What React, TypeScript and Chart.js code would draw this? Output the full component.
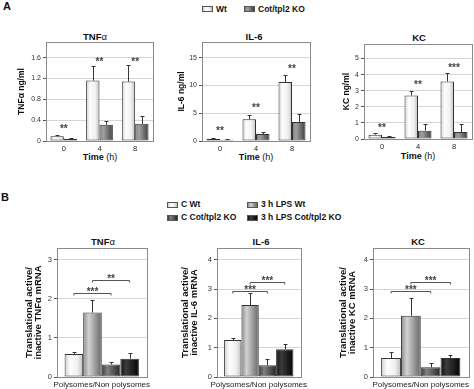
import React, { useEffect, useRef } from 'react';
import { Chart, registerables } from 'chart.js';

Chart.register(...registerables);

const FONT = '"Liberation Sans", Arial, Helvetica, sans-serif';

// ---------------- Panel A data ----------------
const timeLabels = ['0', '4', '8'];
const seriesNamesA = ['Wt', 'Cot/tpl2 KO'];

const tnfWt = [0.09, 1.16, 1.14];
const tnfWtErr = [0.02, 0.27, 0.31];
const tnfKo = [0.045, 0.31, 0.33];
const tnfKoErr = [0.01, 0.08, 0.15];
const tnfStars = ['**', '**', '**'];
const tnfStarY = [0.29, 1.57, 1.57];
const tnfTicks = [0, 0.4, 0.8, 1.2, 1.6];
const tnfTickLabels = ['0', '0.4', '0.8', '1.2', '1.6'];

const il6Wt = [0.4, 3.9, 10.6];
const il6WtErr = [0.1, 0.7, 1.3];
const il6Ko = [0.24, 1.26, 3.4];
const il6KoErr = [0.05, 0.35, 1.45];
const il6Stars = ['**', '**', '**'];
const il6StarY = [2.2, 6.4, 13.4];
const il6Ticks = [0, 5, 10, 15];
const il6TickLabels = ['0', '5', '10', '15'];

const kcWt = [0.27, 2.7, 3.57];
const kcWtErr = [0.08, 0.3, 0.56];
const kcKo = [0.12, 0.52, 0.43];
const kcKoErr = [0.06, 0.41, 0.5];
const kcStars = ['**', '**', '***'];
const kcStarY = [0.85, 3.53, 4.6];
const kcTicks = [0, 1, 2, 3, 4, 5];
const kcTickLabels = ['0', '1', '2', '3', '4', '5'];

// ---------------- Panel B data ----------------
const polyLabels = ['Polysomes/Non polysomes'];
const groupNamesB = ['C Wt', '3 h LPS Wt', 'C Cot/tpl2 KO', '3 h LPS Cot/tpl2 KO'];

const tnfB = [0.59, 1.65, 0.32, 0.47];
const tnfBErr = [0.05, 0.32, 0.06, 0.15];
const tnfBBrackets = [
  { from: 0, to: 2, y: 2.14, label: '***' },
  { from: 1, to: 3, y: 2.49, label: '**' },
];
const il6B = [1.26, 2.46, 0.4, 0.95];
const il6BErr = [0.07, 0.42, 0.2, 0.18];
const il6BBrackets = [
  { from: 0, to: 2, y: 2.94, label: '***' },
  { from: 1, to: 3, y: 3.25, label: '***' },
];
const kcB = [0.65, 2.09, 0.33, 0.65];
const kcBErr = [0.19, 0.6, 0.15, 0.1];
const kcBBrackets = [
  { from: 0, to: 2, y: 2.94, label: '***' },
  { from: 1, to: 3, y: 3.23, label: '***' },
];
const tnfBTicks = [0, 1, 2, 3];
const tnfBTickLabels = ['0', '1', '2', '3'];
const ratioTicks = [0, 1, 2, 3, 4];
const ratioTickLabels = ['0', '1', '2', '3', '4'];

// ---------------- styles ----------------
const STYLE_LIGHT = { stops: [[0, '#cfcfcf'], [0.3, '#fdfdfd'], [0.7, '#f0f0f0'], [1, '#bdbdbd']], flat: '#ececec' };
const STYLE_DARK = { stops: [[0, '#7c7c7c'], [0.3, '#a0a0a0'], [1, '#3e3e3e']], flat: '#707070' };
const STYLE_MID = { stops: [[0, '#8a8a8a'], [0.3, '#d2d2d2'], [1, '#666666']], flat: '#a8a8a8' };
const STYLE_DGRAY = { stops: [[0, '#3c3c3c'], [0.3, '#808080'], [1, '#262626']], flat: '#5a5a5a' };
const STYLE_BLACK = { stops: [[0, '#111111'], [0.3, '#3c3c3c'], [1, '#040404']], flat: '#1c1c1c' };

const STAR_SIZE = 10;

const cssGrad = (st: any) =>
  `linear-gradient(to right, ${st.stops.map((s: any) => `${s[1]} ${s[0] * 100}%`).join(', ')})`;

function barFill(st: any, catPct: number) {
  return (ctx: any) => {
    const chart = ctx.chart;
    const xs = chart.scales && chart.scales.x;
    if (!xs || ctx.type !== 'data') return st.flat;
    const n = chart.data.labels.length;
    const nd = chart.data.datasets.length;
    const groupW = (xs.right - xs.left) / n;
    const center = xs.getPixelForValue(ctx.dataIndex);
    const barW = (groupW * catPct) / nd;
    const left = center - (groupW * catPct) / 2 + ctx.datasetIndex * barW;
    if (!isFinite(left) || !isFinite(barW) || barW <= 0) return st.flat;
    const g = chart.ctx.createLinearGradient(left, 0, left + barW, 0);
    st.stops.forEach((s: any) => g.addColorStop(s[0], s[1]));
    return g;
  };
}

const boxPlugin = {
  id: 'plotBox',
  afterDraw(chart: any) {
    const { ctx, chartArea: a } = chart;
    ctx.save();
    ctx.strokeStyle = '#8a8a8a';
    ctx.lineWidth = 1;
    ctx.strokeRect(Math.round(a.left) + 0.5, Math.round(a.top) + 0.5, Math.round(a.right - a.left), Math.round(a.bottom - a.top));
    ctx.restore();
  },
};

function errPlugin(errors: number[][]) {
  return {
    id: 'errBars',
    afterDatasetsDraw(chart: any) {
      const ctx = chart.ctx;
      const ys = chart.scales.y;
      ctx.save();
      ctx.strokeStyle = '#333';
      ctx.lineWidth = 1;
      chart.data.datasets.forEach((ds: any, di: number) => {
        const meta = chart.getDatasetMeta(di);
        meta.data.forEach((el: any, i: number) => {
          const e = errors[di] && errors[di][i];
          if (!e) return;
          const x = Math.round(el.x) + 0.5;
          const y1 = Math.round(ys.getPixelForValue(ds.data[i] + e)) + 0.5;
          ctx.beginPath();
          ctx.moveTo(x, el.y);
          ctx.lineTo(x, y1);
          ctx.moveTo(x - 2, y1);
          ctx.lineTo(x + 2, y1);
          ctx.stroke();
        });
      });
      ctx.restore();
    },
  };
}

// draws '*' text so that its visual centre sits at y
function drawStars(ctx: any, text: string, x: number, y: number) {
  ctx.fillText(text, x, y + STAR_SIZE * 0.57);
}

function starsPlugin(stars: string[] | null, starY: number[] | null) {
  return {
    id: 'stars',
    afterDatasetsDraw(chart: any) {
      if (!stars || !starY) return;
      const ctx = chart.ctx;
      const xs = chart.scales.x;
      const ys = chart.scales.y;
      ctx.save();
      ctx.fillStyle = '#444';
      ctx.font = `bold ${STAR_SIZE}px ${FONT}`;
      ctx.textAlign = 'center';
      ctx.textBaseline = 'alphabetic';
      stars.forEach((s, i) => {
        drawStars(ctx, s, xs.getPixelForValue(i), ys.getPixelForValue(starY[i]));
      });
      ctx.restore();
    },
  };
}

function bracketPlugin(brackets: any[] | null) {
  return {
    id: 'brackets',
    afterDatasetsDraw(chart: any) {
      if (!brackets) return;
      const ctx = chart.ctx;
      const ys = chart.scales.y;
      ctx.save();
      ctx.strokeStyle = '#555';
      ctx.fillStyle = '#444';
      ctx.lineWidth = 1;
      ctx.font = `bold ${STAR_SIZE}px ${FONT}`;
      ctx.textAlign = 'center';
      ctx.textBaseline = 'alphabetic';
      brackets.forEach((b) => {
        const x1 = chart.getDatasetMeta(b.from).data[0].x;
        const x2 = chart.getDatasetMeta(b.to).data[0].x;
        const y = Math.round(ys.getPixelForValue(b.y)) + 0.5;
        ctx.beginPath();
        ctx.moveTo(x1, y + 2);
        ctx.lineTo(x1, y);
        ctx.lineTo(x2, y);
        ctx.lineTo(x2, y + 2);
        ctx.stroke();
        drawStars(ctx, b.label, (x1 + x2) / 2, y - 4);
      });
      ctx.restore();
    },
  };
}

function buildConfig(s: any): any {
  return {
    type: 'bar',
    data: {
      labels: s.labels,
      datasets: s.series.map((ser: any) => ({
        label: ser.name,
        data: ser.values,
        backgroundColor: barFill(ser.style, s.catPct),
        borderColor: '#333',
        borderWidth: 1,
        borderSkipped: false,
        categoryPercentage: s.catPct,
        barPercentage: 1,
      })),
    },
    options: {
      responsive: false,
      animation: false,
      devicePixelRatio: 1,
      layout: { padding: { top: s.padTop, right: s.padRight, left: 0, bottom: 0 } },
      plugins: { legend: { display: false }, tooltip: { enabled: false }, title: { display: false } },
      scales: {
        x: {
          afterFit: (sc: any) => { sc.height = s.xHeight; },
          grid: { display: false, drawTicks: false },
          border: { display: false },
          ticks: { font: { family: FONT, size: s.xTickSize }, color: '#222', padding: s.xTickPad, maxRotation: 0, autoSkip: false },
        },
        y: {
          min: 0,
          max: s.yMax,
          afterFit: (sc: any) => { sc.width = s.yWidth; },
          afterBuildTicks: (sc: any) => { sc.ticks = s.yTicks.map((v: number) => ({ value: v })); },
          ticks: {
            callback: (_v: any, i: number) => s.yTickLabels[i],
            font: { family: FONT, size: s.yTickSize },
            color: '#333',
            padding: 2,
            autoSkip: false,
          },
          grid: { color: '#d6d6d6', tickColor: '#555', tickLength: 3, lineWidth: 1 },
          border: { display: false },
          title: {
            display: true,
            text: s.yTitle,
            font: { family: FONT, size: s.yTitleSize, weight: 'bold', lineHeight: 1.0 },
            color: '#111',
            padding: { top: s.yTitlePad, bottom: 0 },
          },
        },
      },
    },
    plugins: [boxPlugin, errPlugin(s.series.map((x: any) => x.errors)), starsPlugin(s.stars, s.starY), bracketPlugin(s.brackets)],
  };
}

function ChartPanel({ spec }: { spec: any }) {
  const ref = useRef<HTMLCanvasElement>(null);
  useEffect(() => {
    const chart = new Chart(ref.current as HTMLCanvasElement, buildConfig(spec));
    return () => chart.destroy();
  }, []);
  return (
    <canvas
      ref={ref}
      width={spec.width}
      height={spec.height}
      style={{ position: 'absolute', left: spec.left, top: spec.top, width: spec.width, height: spec.height }}
    />
  );
}

const aCommon = {
  labels: timeLabels,
  catPct: 0.75,
  padRight: 2,
  yWidth: 36,
  xHeight: 24,
  xTickSize: 7.5,
  xTickPad: 3,
  yTickSize: 7,
  yTitleSize: 8.5,
  brackets: null,
};

const panels: any[] = [
  {
    ...aCommon,
    left: 10, top: 30, width: 145, height: 135, padTop: 12, yTitlePad: 7,
    yMax: 1.9, yTicks: tnfTicks, yTickLabels: tnfTickLabels, yTitle: 'TNFα ng/ml',
    stars: tnfStars, starY: tnfStarY,
    series: [
      { name: seriesNamesA[0], values: tnfWt, errors: tnfWtErr, style: STYLE_LIGHT },
      { name: seriesNamesA[1], values: tnfKo, errors: tnfKoErr, style: STYLE_DARK },
    ],
  },
  {
    ...aCommon,
    left: 166, top: 30, width: 146, height: 135, padTop: 12, yTitlePad: 11,
    yMax: 17.8, yTicks: il6Ticks, yTickLabels: il6TickLabels, yTitle: 'IL-6 ng/ml',
    stars: il6Stars, starY: il6StarY,
    series: [
      { name: seriesNamesA[0], values: il6Wt, errors: il6WtErr, style: STYLE_LIGHT },
      { name: seriesNamesA[1], values: il6Ko, errors: il6KoErr, style: STYLE_DARK },
    ],
  },
  {
    ...aCommon,
    left: 328, top: 30, width: 146, height: 133, padTop: 14, yTitlePad: 14,
    yMax: 5.9, yTicks: kcTicks, yTickLabels: kcTickLabels, yTitle: 'KC ng/ml',
    stars: kcStars, starY: kcStarY,
    series: [
      { name: seriesNamesA[0], values: kcWt, errors: kcWtErr, style: STYLE_LIGHT },
      { name: seriesNamesA[1], values: kcKo, errors: kcKoErr, style: STYLE_DARK },
    ],
  },
];

const bStyles = [STYLE_LIGHT, STYLE_MID, STYLE_DGRAY, STYLE_BLACK];
const bSeries = (vals: number[], errs: number[]) =>
  groupNamesB.map((name, i) => ({ name, values: [vals[i]], errors: [errs[i]], style: bStyles[i] }));

const bCommon = {
  labels: polyLabels,
  catPct: 0.83,
  padRight: 2,
  padTop: 10,
  top: 238,
  height: 151,
  yWidth: 42,
  xHeight: 12,
  xTickSize: 8,
  xTickPad: 3,
  yTickSize: 7.5,
  yTitleSize: 9.5,
  stars: null,
  starY: null,
};

panels.push(
  {
    ...bCommon,
    left: 15, width: 139, yTitlePad: 9.5,
    yMax: 3.3, yTicks: tnfBTicks, yTickLabels: tnfBTickLabels,
    yTitle: ['Translational active/', 'inactive TNFα mRNA'],
    brackets: tnfBBrackets,
    series: bSeries(tnfB, tnfBErr),
  },
  {
    ...bCommon,
    left: 175, width: 136, yTitlePad: 5.5,
    yMax: 4.4, yTicks: ratioTicks, yTickLabels: ratioTickLabels,
    yTitle: ['Translational active/', 'inactive IL-6 mRNA'],
    brackets: il6BBrackets,
    series: bSeries(il6B, il6BErr),
  },
  {
    ...bCommon,
    left: 331, width: 142, yTitlePad: 7.5,
    yMax: 4.4, yTicks: ratioTicks, yTickLabels: ratioTickLabels,
    yTitle: ['Translational active/', 'inactive KC mRNA'],
    brackets: kcBBrackets,
    series: bSeries(kcB, kcBErr),
  },
);

function Txt({ x, y, size = 9, bold = true, align = 'center', children }: any) {
  return (
    <div
      style={{
        position: 'absolute',
        left: x,
        top: y,
        transform: align === 'center' ? 'translate(-50%, -50%)' : 'translate(0, -50%)',
        font: `${bold ? 'bold ' : ''}${size}px ${FONT}`,
        lineHeight: 1,
        whiteSpace: 'nowrap',
        color: '#111',
      }}
    >
      {children}
    </div>
  );
}

function LegendItem({ x, y, style, label }: any) {
  return (
    <>
      <div
        style={{
          position: 'absolute',
          left: x,
          top: y - 2.5,
          width: 9,
          height: 4,
          border: '1px solid #555',
          background: cssGrad(style),
        }}
      />
      <Txt x={x + 14} y={y} size={8.5} align="left">{label}</Txt>
    </>
  );
}

const TimeTitle = ({ x, y }: any) => (
  <Txt x={x} y={y} size={9}>
    Time <span style={{ fontWeight: 'normal' }}>(h)</span>
  </Txt>
);

export default function App() {
  return (
    <div style={{ position: 'fixed', left: 0, top: 0, width: 474, height: 389, background: '#fff', overflow: 'hidden' }}>
      <Txt x={3} y={6} size={11} align="left">A</Txt>
      <Txt x={1} y={197} size={11} align="left">B</Txt>

      <LegendItem x={202} y={8.5} style={STYLE_LIGHT} label={seriesNamesA[0]} />
      <LegendItem x={244} y={8.5} style={STYLE_DARK} label={seriesNamesA[1]} />

      <LegendItem x={167} y={204} style={STYLE_LIGHT} label={groupNamesB[0]} />
      <LegendItem x={247} y={204} style={STYLE_MID} label={groupNamesB[1]} />
      <LegendItem x={167} y={217} style={STYLE_DGRAY} label={groupNamesB[2]} />
      <LegendItem x={247} y={217} style={STYLE_BLACK} label={groupNamesB[3]} />

      <Txt x={95} y={37} size={9.5}>TNF<span style={{ fontWeight: 'normal' }}>α</span></Txt>
      <Txt x={254} y={37} size={9.5}>IL-6</Txt>
      <Txt x={419} y={38} size={9.5}>KC</Txt>

      <Txt x={103} y={242} size={9.5}>TNF<span style={{ fontWeight: 'normal' }}>α</span></Txt>
      <Txt x={261} y={242} size={9.5}>IL-6</Txt>
      <Txt x={418} y={242} size={9.5}>KC</Txt>

      <TimeTitle x={100} y={157} />
      <TimeTitle x={256} y={157} />
      <TimeTitle x={418} y={156} />

      {panels.map((p, i) => (
        <ChartPanel key={i} spec={p} />
      ))}
    </div>
  );
}
